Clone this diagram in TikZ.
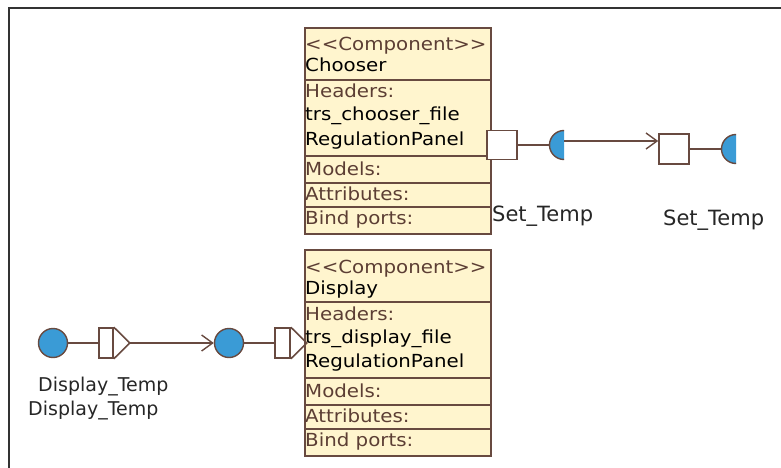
\documentclass[tikz,border=0pt]{standalone}
\usepackage{fontspec}
\setmainfont{DejaVu Sans}
\newfontfamily\boxfont{DejaVu Sans}[FakeStretch=1.1]
\usetikzlibrary{arrows.meta,calc}

\definecolor{umlborder}{RGB}{104,74,64}
\definecolor{umlfill}{RGB}{255,245,206}
\definecolor{umltag}{RGB}{92,62,52}
\definecolor{portblue}{RGB}{58,155,214}
\definecolor{framegray}{RGB}{51,51,51}

\begin{document}
\begin{tikzpicture}[x=1pt,y=-1pt,
  compbox/.style={draw=umlborder, fill=umlfill, line width=1.8pt, inner sep=0pt,
                  minimum width=186pt, minimum height=206pt, anchor=north west},
  sepline/.style={draw=umlborder, line width=1.5pt},
  tagtext/.style={inner sep=0pt, anchor=base west, text=umltag,
                  font=\boxfont\fontsize{18}{22}\selectfont},
  nametext/.style={inner sep=0pt, anchor=base west, text=black,
                  font=\boxfont\fontsize{18}{22}\selectfont},
  portlabel/.style={inner sep=0pt, anchor=base west, text=black!85,
                  font=\fontsize{21}{25}\selectfont},
  flowlabel/.style={inner sep=0pt, anchor=base west, text=black!85,
                  font=\fontsize{19}{23}\selectfont},
  portsq/.style={draw=umlborder, fill=white, line width=1.6pt, inner sep=0pt},
  portdisc/.style={circle, draw=umlborder, fill=portblue, line width=1.4pt,
                  inner sep=0pt, minimum size=29pt},
  conn/.style={draw=umlborder, line width=1.4pt},
  flowarrow/.style={conn, -{Straight Barb[length=11pt,width=16pt,line width=1.4pt]}}
]
\useasboundingbox (0,0) rectangle (781,468);

% outer frame (left and top edges)
\draw[framegray, line width=2pt] (9,468) -- (9,8) -- (781,8);

% ---------- component: Chooser ----------
\node[compbox] (chooser) at (304,27) {};
\foreach \yy in {80,156,183,207}
  \draw[sepline] (chooser.west |- 0,\yy) -- (chooser.east |- 0,\yy);
\node[tagtext]  (chS) at (305,51)  {<\kern0pt<Component>\kern0pt>};
\node[nametext] (chN) at (305,72)  {Chooser};
\node[tagtext]  (chH) at (305,98)  {Headers:};
\node[nametext] (chF) at (305,121) {trs\_chooser\_file};
\node[nametext] (chR) at (305,145) {RegulationPanel};
\node[tagtext]  (chM) at (305,175) {Models:};
\node[tagtext]  (chA) at (305,200) {Attributes:};
\node[tagtext]  (chB) at (305,224) {Bind ports:};

% ---------- component: Display ----------
\node[compbox] (display) at (304,249) {};
\foreach \yy in {302,378,405,429}
  \draw[sepline] (display.west |- 0,\yy) -- (display.east |- 0,\yy);
\node[tagtext]  (dsS) at (305,273) {<\kern0pt<Component>\kern0pt>};
\node[nametext] (dsN) at (305,294) {Display};
\node[tagtext]  (dsH) at (305,320) {Headers:};
\node[nametext] (dsF) at (305,343) {trs\_display\_file};
\node[nametext] (dsR) at (305,367) {RegulationPanel};
\node[tagtext]  (dsM) at (305,397) {Models:};
\node[tagtext]  (dsA) at (305,422) {Attributes:};
\node[tagtext]  (dsB) at (305,446) {Bind ports:};

% ---------- Set_Temp output port of Chooser ----------
\node[portsq, minimum width=30pt, minimum height=29pt] (p1sq) at (502,145) {};
\begin{scope}
  \clip (540,120) rectangle (564,170);
  \node[portdisc] (p1h) at (564,145) {};
\end{scope}
\draw[conn] (p1sq.east) -- (p1h.west);

% ---------- Set_Temp external port ----------
\node[portsq, minimum width=30pt, minimum height=30pt] (p2sq) at (674,149) {};
\begin{scope}
  \clip (712,120) rectangle (736,175);
  \node[portdisc] (p2h) at (736,149) {};
\end{scope}
\draw[conn] (p2sq.east) -- (p2h.west);

% flow from the flat side of the first half disc to the external port
\path ([yshift=4pt]p1h.center) coordinate (a1);
\draw[flowarrow] (a1) -- (a1 -| p2sq.west);

\node[portlabel] (lSet1) at (492,221) {Set\_Temp};
\node[portlabel] (lSet2) at (663,225) {Set\_Temp};

% ---------- Display_Temp flow ----------
\node[portdisc] (c1) at (53,343) {};
\node[portsq, minimum width=14pt, minimum height=30pt] (d1sq) at (106,343) {};
\path (d1sq.east) ++(16,0) coordinate (d1tip);
\draw[conn, line width=1.6pt, line join=miter] (d1sq.north east) -- (d1tip) -- (d1sq.south east);

\node[portdisc] (c2) at (229,343) {};
\node[portsq, minimum width=15pt, minimum height=30pt] (d2sq) at (282.5,343) {};
\path (d2sq.east) ++(16,0) coordinate (d2tip);
\draw[conn, line width=1.6pt, line join=miter] (d2sq.north east) -- (d2tip) -- (d2sq.south east);

\draw[conn] (c1.east) -- (d1sq.west);
\draw[flowarrow] (d1tip) -- (c2.west);
\draw[conn] (c2.east) -- (d2sq.west);

\node[flowlabel] (lDisp1) at (38,391) {Display\_Temp};
\node[flowlabel] (lDisp2) at (28,415) {Display\_Temp};
\end{tikzpicture}
\end{document}
